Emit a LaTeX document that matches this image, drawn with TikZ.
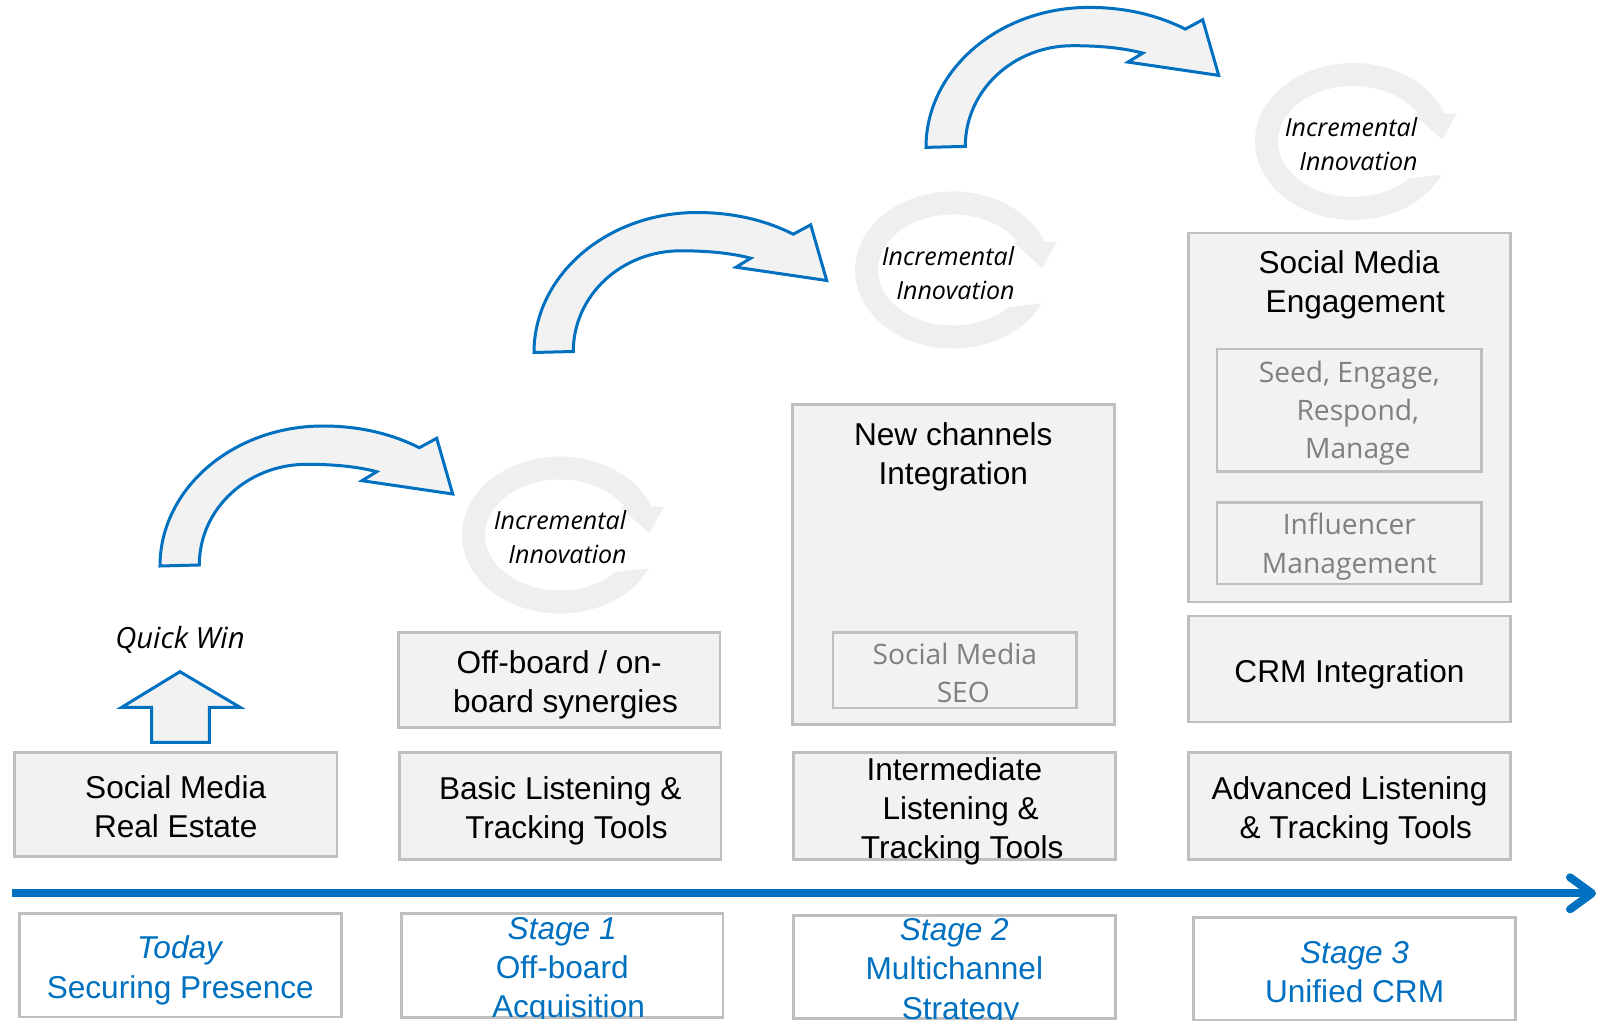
\documentclass[tikz,border=0pt]{standalone}
\usepackage{fontspec}
\setmainfont{Liberation Sans}
\newfontfamily\uifont{Open Sans}
\usetikzlibrary{arrows.meta,fit}

\definecolor{accent}{HTML}{0070C0}
\definecolor{boxfill}{HTML}{F2F2F2}
\definecolor{boxline}{HTML}{BFBFBF}
\definecolor{subtext}{HTML}{808080}
\definecolor{ringfill}{HTML}{EFEFEF}

\tikzset{
  graybox/.style={draw=boxline, fill=boxfill, line width=1.3pt, inner sep=0pt},
  stagebox/.style={draw=boxline, fill=white, line width=1.3pt, inner sep=0pt},
  subbox/.style={draw=boxline, line width=1.2pt, inner sep=0pt},
  maintext/.style={align=center, inner sep=0pt, yshift=-2.5pt, font=\fontsize{15.8}{19.6}\selectfont},
  stagetext/.style={maintext, text=accent},
  greytext/.style={align=center, inner sep=0pt, yshift=-1.5pt, text=subtext, font=\uifont\fontsize{14.1}{19.1}\selectfont},
  ringtext/.style={align=center, inner sep=0pt, font=\uifont\itshape\fontsize{12.5}{17}\selectfont},
  bigarrow/.style={draw=accent, fill=boxfill, line width=1.5pt, line join=miter},
  timeline/.style={draw=accent, line width=4pt, -{Straight Barb[length=11pt,width=16pt,round]}},
  % curved block arrow, origin at the outer foot of the shaft
  curvearrow/.pic={
    \path[bigarrow] (0,0) .. controls (0,-77.3) and (73,-140) .. (163,-140)
      .. controls (200,-140) and (232,-132) .. (259.3,-118.3)
      -- (276.7,-127.7) -- (292.7,-72) -- (202,-85.3) -- (216.7,-94.3)
      .. controls (195,-100) and (170,-101.7) .. (146.7,-101.7)
      .. controls (87.4,-101.7) and (39.3,-57) .. (39.3,-1) -- cycle;
  },
  % open ring with a head at the upper right, origin at its centre
  ringarrow/.pic={
    \fill[ringfill] (25:98 and 78.5)
      arc[start angle=25, end angle=339, x radius=98, y radius=78.5]
      -- (104,-28) -- (89,-2) -- (60,-28) -- (329.7:75 and 55.5)
      arc[start angle=329.7, end angle=42, x radius=75, y radius=55.5]
      -- cycle;
  }
}

\begin{document}
\begin{tikzpicture}[x=0.5pt, y=-0.5pt]
\useasboundingbox (0,0) rectangle (1597,1021);

% ---- growth arrows and innovation rings
\pic at (160,566) {curvearrow};
\pic at (534,352.5) {curvearrow};
\pic at (926,147.4) {curvearrow};

\pic at (560,535) {ringarrow};
\pic at (953,270) {ringarrow};
\pic at (1353,141.5) {ringarrow};

\node[ringtext] (r1) at (560,537) {Incremental\\\hspace*{0.6em}Innovation};
\node[ringtext] (r2) at (948,273) {Incremental\\\hspace*{0.6em}Innovation};
\node[ringtext] (r3) at (1351,144) {Incremental\\\hspace*{0.6em}Innovation};

% ---- quick win
\node[font=\uifont\itshape\fontsize{14.6}{17}\selectfont, inner sep=0pt] (qw) at (180,640) {Quick Win};
\path[bigarrow] (180,671.7) -- (240,707.3) -- (209.3,707.3) -- (209.3,742.3)
  -- (151.7,742.3) -- (151.7,707.3) -- (121.7,707.3) -- cycle;

% ---- capability boxes, bottom row
\node[graybox, fit={(14.3,752.7) (337.1,856.6)}] (b1) {};
\node[graybox, fit={(399.3,752.7) (721.1,859.6)}] (b2) {};
\node[graybox, fit={(793.4,752.7) (1115.3,859.6)}] (b3) {};
\node[graybox, fit={(1188.6,752.7) (1510.4,859.6)}] (b4) {};
\node[maintext, yshift=1.5pt] (b1t) at (b1) {Social Media\\Real Estate};
\node[maintext] (b2t) at (b2) {Basic Listening \&\\\hspace*{0.4em}Tracking Tools};
\node[maintext] (b3t) at (b3) {Intermediate\\\hspace*{0.4em}Listening \&\\\hspace*{0.5em}Tracking Tools};
\node[maintext] (b4t) at (b4) {Advanced Listening\\\hspace*{0.4em}\& Tracking Tools};

% ---- capability boxes, upper rows
\node[graybox, fit={(398.2,632.5) (720.1,727.7)}] (ob) {};
\node[maintext] (obt) at (ob) {Off-board / on-\\\hspace*{0.4em}board synergies};

\node[graybox, fit={(792.4,404.3) (1114.2,724.2)}] (nc) {};
\node[maintext] (nct) at (953.3,452) {New channels\\Integration};
\node[subbox, fit={(833.1,632.5) (1076.6,707.9)}] (seo) {};
\node[greytext] (seot) at (seo) {Social Media\\\hspace*{0.6em}SEO};

\node[graybox, fit={(1188.6,616.2) (1510.4,722.1)}] (crm) {};
\node[maintext] (crmt) at (crm) {CRM Integration};

\node[graybox, fit={(1188.6,233.2) (1510.4,601.9)}] (eng) {};
\node[maintext] (engt) at (1349,280) {Social Media\\\hspace*{0.4em}Engagement};
\node[subbox, fit={(1217.1,349.3) (1481.5,471.6)}] (seed) {};
\node[greytext] (seedt) at (seed) {Seed, Engage,\\\hspace*{0.6em}Respond,\\\hspace*{0.6em}Manage};
\node[subbox, fit={(1217.1,502.7) (1481.5,584.3)}] (infl) {};
\node[greytext] (inflt) at (infl) {Influencer\\Management};

% ---- timeline
\coordinate (tl0) at (12,893.3);
\coordinate (tl1) at (1596,893.3);
\draw[timeline] (tl0) -- (tl1);

% ---- stage boxes (text clipped to each box)
\node[stagebox, fit={(19.4,913.6) (341.2,1017)}] (s1) {};
\node[stagebox, fit={(401.3,913.6) (723.1,1017.3)}] (s2) {};
\node[stagebox, fit={(793.4,915.6) (1115.3,1018.5)}] (s3) {};
\node[stagebox, fit={(1193.7,917.7) (1515.5,1020.5)}] (s4) {};
\begin{scope}
  \clip (s1.south west) rectangle (s1.north east);
  \node[stagetext] (s1t) at (s1) {\textit{Today}\\Securing Presence};
\end{scope}
\begin{scope}
  \clip (s2.south west) rectangle (s2.north east);
  \node[stagetext] (s2t) at (s2) {\textit{Stage 1}\\Off-board\\\hspace*{0.4em}Acquisition};
\end{scope}
\begin{scope}
  \clip (s3.south west) rectangle (s3.north east);
  \node[stagetext] (s3t) at (s3) {\textit{Stage 2}\\Multichannel\\\hspace*{0.4em}Strategy};
\end{scope}
\begin{scope}
  \clip (s4.south west) rectangle (s4.north east);
  \node[stagetext, yshift=1pt] (s4t) at (s4) {\textit{Stage 3}\\Unified CRM};
\end{scope}
\end{tikzpicture}
\end{document}
